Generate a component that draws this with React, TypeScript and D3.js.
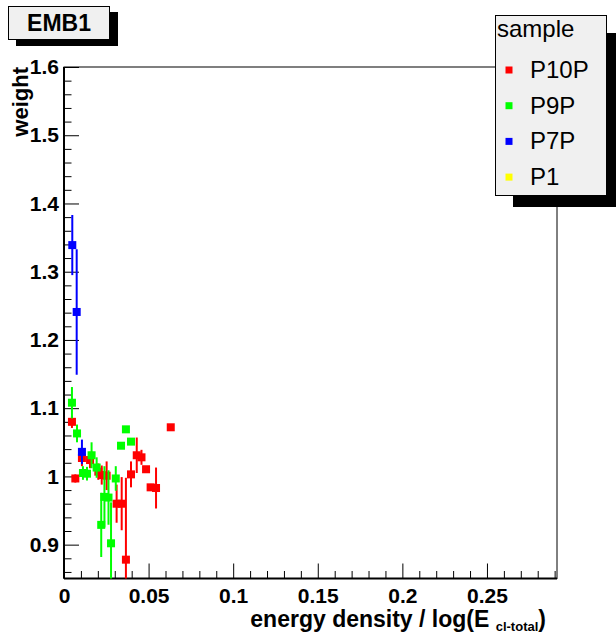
import React, { useRef, useEffect } from "react";
import { select, scaleLinear, axisBottom, axisLeft, range } from "d3";

// values: x = energy density / log(E), y = weight, e = error
const p10pX = [0.0047, 0.0067, 0.0106, 0.0154, 0.0203, 0.0223, 0.0252, 0.0311, 0.0341, 0.0366, 0.0396, 0.043, 0.0458, 0.0485, 0.0512, 0.0544, 0.0631];
const p10pY = [1.08, 0.997, 1.027, 1.024, 1.007, 1.002, 1.001, 0.96, 0.96, 0.878, 1.003, 1.031, 1.028, 1.0105, 0.984, 0.983, 1.072];
const p10pE = [0.009, 0.006, 0.012, 0.012, 0.012, 0.014, 0.021, 0.028, 0.039, 0.12, 0.019, 0.026, 0.011, 0.004, 0.005, 0.03, 0.003];

const p9pX = [0.0047, 0.0077, 0.0112, 0.0136, 0.0163, 0.0193, 0.022, 0.0239, 0.0263, 0.0278, 0.0306, 0.0337, 0.0366, 0.0396];
const p9pY = [1.108, 1.063, 1.005, 1.004, 1.031, 1.013, 0.929, 0.97, 0.969, 0.902, 0.997, 1.045, 1.069, 1.051];
const p9pE = [0.023, 0.013, 0.01, 0.01, 0.019, 0.015, 0.047, 0.045, 0.04, 0.06, 0.018, 0.004, 0.004, 0.004];

const p7pX = [0.0049, 0.0075, 0.0106];
const p7pY = [1.339, 1.241, 1.036];
const p7pE = [0.044, 0.092, 0.018];

const p1X: number[] = [];
const p1Y: number[] = [];
const p1E: number[] = [];

const seriesNames = ["P10P", "P9P", "P7P", "P1"];
const seriesColors = ["#ff0000", "#00ff00", "#0000ff", "#ffff00"];

const xTicks = [0, 0.05, 0.1, 0.15, 0.2, 0.25];
const yTicks = [0.9, 1, 1.1, 1.2, 1.3, 1.4, 1.5, 1.6];

const W = 616;
const H = 635;
const frame = { left: 64, right: 557, top: 67, bottom: 578.5 };
const FONT = "'Liberation Sans', Arial, Helvetica, sans-serif";

function Chart() {
  const svgRef = useRef<SVGSVGElement>(null);

  useEffect(() => {
    const svg = select(svgRef.current);
    svg.selectAll("*").remove();

    const x = scaleLinear().domain([0, 0.2914]).range([frame.left, frame.right]);
    const y = scaleLinear().domain([0.8504, 1.6]).range([frame.bottom, frame.top]);

    svg.append("rect").attr("width", W).attr("height", H).attr("fill", "#fff");

    // frame
    svg
      .append("rect")
      .attr("x", frame.left)
      .attr("y", frame.top)
      .attr("width", frame.right - frame.left)
      .attr("height", frame.bottom - frame.top)
      .attr("fill", "#fff")
      .attr("stroke", "#000")
      .attr("stroke-width", 1);

    const fmt = (d: any) => String(+(+d).toFixed(2));

    // x axis ticks
    const xMinor = range(0, 0.2915, 0.01).filter(v => !xTicks.some(t => Math.abs(t - v) < 1e-6));
    svg
      .append("g")
      .attr("transform", `translate(0,${frame.bottom})`)
      .call(axisBottom(x).tickValues(xMinor).tickSize(-7.5).tickFormat(() => ""))
      .call(g => g.select(".domain").remove());
    svg
      .append("g")
      .attr("transform", `translate(0,${frame.bottom})`)
      .call(axisBottom(x).tickValues(xTicks).tickSize(-15).tickPadding(10).tickFormat(fmt))
      .call(g => g.select(".domain").remove())
      .call(g =>
        g.selectAll("text").attr("font-family", FONT).attr("font-size", 21).attr("font-weight", "bold").attr("fill", "#000")
      );

    // y axis ticks
    const yMinor = range(0.86, 1.6, 0.02).filter(v => !yTicks.some(t => Math.abs(t - v) < 1e-6));
    svg
      .append("g")
      .attr("transform", `translate(${frame.left},0)`)
      .call(axisLeft(y).tickValues(yMinor).tickSize(-7.5).tickFormat(() => ""))
      .call(g => g.select(".domain").remove());
    svg
      .append("g")
      .attr("transform", `translate(${frame.left},0)`)
      .call(axisLeft(y).tickValues(yTicks).tickSize(-15).tickPadding(5).tickFormat(fmt))
      .call(g => g.select(".domain").remove())
      .call(g =>
        g.selectAll("text").attr("font-family", FONT).attr("font-size", 21).attr("font-weight", "bold").attr("fill", "#000")
      );

    svg.selectAll(".tick line").attr("stroke", "#000").attr("stroke-width", 1);

    // axis lines (thicker)
    svg
      .append("line")
      .attr("x1", frame.left).attr("x2", frame.right)
      .attr("y1", frame.bottom).attr("y2", frame.bottom)
      .attr("stroke", "#000").attr("stroke-width", 2);
    svg
      .append("line")
      .attr("x1", frame.left).attr("x2", frame.left)
      .attr("y1", frame.top).attr("y2", frame.bottom)
      .attr("stroke", "#000").attr("stroke-width", 2);

    // data
    svg
      .append("clipPath")
      .attr("id", "plotclip")
      .append("rect")
      .attr("x", frame.left)
      .attr("y", frame.top)
      .attr("width", frame.right - frame.left)
      .attr("height", frame.bottom - frame.top);

    const series = [
      { xs: p10pX, ys: p10pY, es: p10pE },
      { xs: p9pX, ys: p9pY, es: p9pE },
      { xs: p7pX, ys: p7pY, es: p7pE },
      { xs: p1X, ys: p1Y, es: p1E },
    ];

    const plot = svg.append("g").attr("clip-path", "url(#plotclip)");
    series.forEach((s, si) => {
      const pts = s.xs.map((xv, i) => ({ x: xv, y: s.ys[i], e: s.es[i] }));
      const g = plot.append("g");
      g.selectAll("line")
        .data(pts)
        .join("line")
        .attr("x1", d => x(d.x))
        .attr("x2", d => x(d.x))
        .attr("y1", d => y(d.y - d.e))
        .attr("y2", d => y(d.y + d.e))
        .attr("stroke", seriesColors[si])
        .attr("stroke-width", 2);
      g.selectAll("rect")
        .data(pts)
        .join("rect")
        .attr("x", d => x(d.x) - 4)
        .attr("y", d => y(d.y) - 4)
        .attr("width", 8)
        .attr("height", 8)
        .attr("fill", seriesColors[si]);
    });

    // axis titles
    svg
      .append("text")
      .attr("transform", "translate(28,67) rotate(-90)")
      .attr("text-anchor", "end")
      .attr("font-family", FONT)
      .attr("font-size", 22)
      .attr("font-weight", "bold")
      .text("weight");

    const xt = svg
      .append("text")
      .attr("x", 546)
      .attr("y", 627)
      .attr("text-anchor", "end")
      .attr("font-family", FONT)
      .attr("font-size", 23)
      .attr("font-weight", "bold");
    xt.append("tspan").text("energy density / log(E ");
    xt.append("tspan").attr("font-size", 13).attr("dy", 4).text("cl-total");
    xt.append("tspan").attr("dy", -4).text(")");

    // title box
    svg.append("rect").attr("x", 16).attr("y", 12).attr("width", 102).attr("height", 34).attr("fill", "#000");
    svg
      .append("rect")
      .attr("x", 8.5).attr("y", 6.5).attr("width", 101).attr("height", 33)
      .attr("fill", "#f0f0f0").attr("stroke", "#000").attr("stroke-width", 1);
    svg
      .append("text")
      .attr("x", 59).attr("y", 31)
      .attr("text-anchor", "middle")
      .attr("font-family", FONT)
      .attr("font-size", 23)
      .attr("font-weight", "bold")
      .text("EMB1");

    // legend
    svg.append("rect").attr("x", 513).attr("y", 33).attr("width", 110).attr("height", 174).attr("fill", "#000");
    svg
      .append("rect")
      .attr("x", 495.5).attr("y", 15.5).attr("width", 111).attr("height", 180)
      .attr("fill", "#f0f0f0").attr("stroke", "#000").attr("stroke-width", 1);
    svg
      .append("text")
      .attr("x", 497).attr("y", 37)
      .attr("font-family", FONT)
      .attr("font-size", 24)
      .text("sample");
    const leg = svg
      .append("g")
      .selectAll("g")
      .data(seriesNames)
      .join("g")
      .attr("transform", (d, i) => `translate(0,${70 + i * 35.7})`);
    leg
      .append("rect")
      .attr("x", 505.5).attr("y", -3.5).attr("width", 7).attr("height", 7)
      .attr("fill", (d, i) => seriesColors[i]);
    leg
      .append("text")
      .attr("x", 530).attr("y", 8)
      .attr("font-family", FONT)
      .attr("font-size", 24)
      .text(d => d);
  }, []);

  return <svg ref={svgRef} width={W} height={H} style={{ display: "block" }} />;
}

export default function App() {
  return (
    <div style={{ position: "absolute", left: 0, top: 0 }}>
      <Chart />
    </div>
  );
}
